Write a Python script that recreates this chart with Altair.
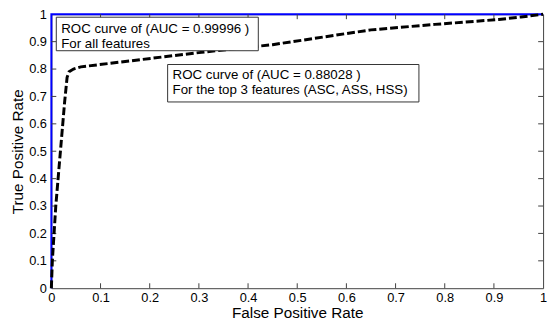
import altair as alt
import pandas as pd

# ---- data ----
fpr_all = [0.0, 0.0, 1.0]
tpr_all = [0.0, 1.0, 1.0]

fpr_top3 = [0.0, 0.002, 0.009, 0.017, 0.027, 0.032, 0.036, 0.045, 0.06, 0.3, 0.45, 0.65, 0.78, 0.91, 0.955, 1.0]
tpr_top3 = [0.0, 0.1, 0.3, 0.47, 0.68, 0.77, 0.79, 0.80, 0.808, 0.86, 0.889, 0.943, 0.963, 0.981, 0.99, 1.0]

tick_values = [0.0, 0.1, 0.2, 0.3, 0.4, 0.5, 0.6, 0.7, 0.8, 0.9, 1.0]
inner_ticks = [0.1, 0.2, 0.3, 0.4, 0.5, 0.6, 0.7, 0.8, 0.9]

label_all = ["ROC curve of (AUC = 0.99996 )", "For all features"]
label_top3 = ["ROC curve of (AUC = 0.88028 )", "For the top 3 features (ASC, ASS, HSS)"]

# ---- layout ----
W, H = 499, 278
FONT = "Liberation Sans"
TICK_LEN = 5
AXIS_COLOR = "#404040"

xs = alt.Scale(domain=[0, 1], nice=False)
ys = alt.Scale(domain=[0, 1], nice=False)

df_all = pd.DataFrame({"fpr": fpr_all, "tpr": tpr_all, "order": list(range(len(fpr_all)))})
df_top3 = pd.DataFrame({"fpr": fpr_top3, "tpr": tpr_top3, "order": list(range(len(fpr_top3)))})
df_ticks = pd.DataFrame({"fpr": inner_ticks, "tpr": inner_ticks})

x_axis = alt.Axis(
    title="False Positive Rate", values=tick_values, format="~g",
    grid=False, domain=False, ticks=False, tickSize=0,
    labelPadding=3, titlePadding=2, labelFlush=False, labelOverlap=False,
    labelFont=FONT, labelFontSize=13, labelColor="black",
    titleFont=FONT, titleFontSize=15.5, titleFontWeight="normal", titleColor="black",
)
y_axis = alt.Axis(
    title="True Positive Rate", values=tick_values, format="~g",
    grid=False, domain=False, ticks=False, tickSize=0,
    labelPadding=5, titlePadding=3, labelFlush=False, labelOverlap=False,
    labelFont=FONT, labelFontSize=13, labelColor="black",
    titleFont=FONT, titleFontSize=15.5, titleFontWeight="normal", titleColor="black",
)

line_all = alt.Chart(df_all).mark_line(color="#0000ff", strokeWidth=2, clip=False).encode(
    x=alt.X("fpr:Q", scale=xs, axis=x_axis),
    y=alt.Y("tpr:Q", scale=ys, axis=y_axis),
    order="order:Q",
)
line_top3 = alt.Chart(df_top3).mark_line(color="black", strokeWidth=3, strokeDash=[8, 3]).encode(
    x=alt.X("fpr:Q", scale=xs, axis=x_axis),
    y=alt.Y("tpr:Q", scale=ys, axis=y_axis),
    order="order:Q",
)

# inward ticks on all four sides (MATLAB box style)
tick_bottom = alt.Chart(df_ticks).mark_rule(color=AXIS_COLOR, strokeWidth=1).encode(
    x=alt.X("fpr:Q", scale=xs, axis=x_axis), y=alt.value(H), y2=alt.value(H - TICK_LEN))
tick_top = alt.Chart(df_ticks).mark_rule(color=AXIS_COLOR, strokeWidth=1).encode(
    x=alt.X("fpr:Q", scale=xs, axis=x_axis), y=alt.value(0), y2=alt.value(TICK_LEN))
tick_left = alt.Chart(df_ticks).mark_rule(color=AXIS_COLOR, strokeWidth=1).encode(
    y=alt.Y("tpr:Q", scale=ys, axis=y_axis), x=alt.value(0), x2=alt.value(TICK_LEN))
tick_right = alt.Chart(df_ticks).mark_rule(color=AXIS_COLOR, strokeWidth=1).encode(
    y=alt.Y("tpr:Q", scale=ys, axis=y_axis), x=alt.value(W), x2=alt.value(W - TICK_LEN))


def box(x1, x2, y1, y2):
    return alt.Chart(pd.DataFrame({"k": [0]})).mark_rect(
        fill="white", stroke="#333333", strokeWidth=1
    ).encode(x=alt.value(x1), x2=alt.value(x2), y=alt.value(y1), y2=alt.value(y2))


def text_line(txt, x, y):
    return alt.Chart(pd.DataFrame({"t": [txt]})).mark_text(
        align="left", baseline="middle", font=FONT, fontSize=13.5, color="black"
    ).encode(text="t:N", x=alt.value(x), y=alt.value(y))


box_all = box(5, 210, 3, 37)
txt_all = [text_line(label_all[0], 10, 15), text_line(label_all[1], 10, 30.5)]
box_top3 = box(118, 373, 51, 89)
txt_top3 = [text_line(label_top3[0], 123, 62), text_line(label_top3[1], 123, 77)]

chart = alt.layer(
    line_all, tick_bottom, tick_top, tick_left, tick_right,
    line_top3,
    box_all, *txt_all, box_top3, *txt_top3,
).properties(
    width=W, height=H,
    background="white",
    autosize=alt.AutoSizeParams(type="none"),
    padding={"left": 44, "top": 4, "right": 6, "bottom": 36},
).configure_view(
    stroke=AXIS_COLOR, strokeWidth=1
)

chart.save("out.html", embed_options={"renderer": "svg", "actions": False})
